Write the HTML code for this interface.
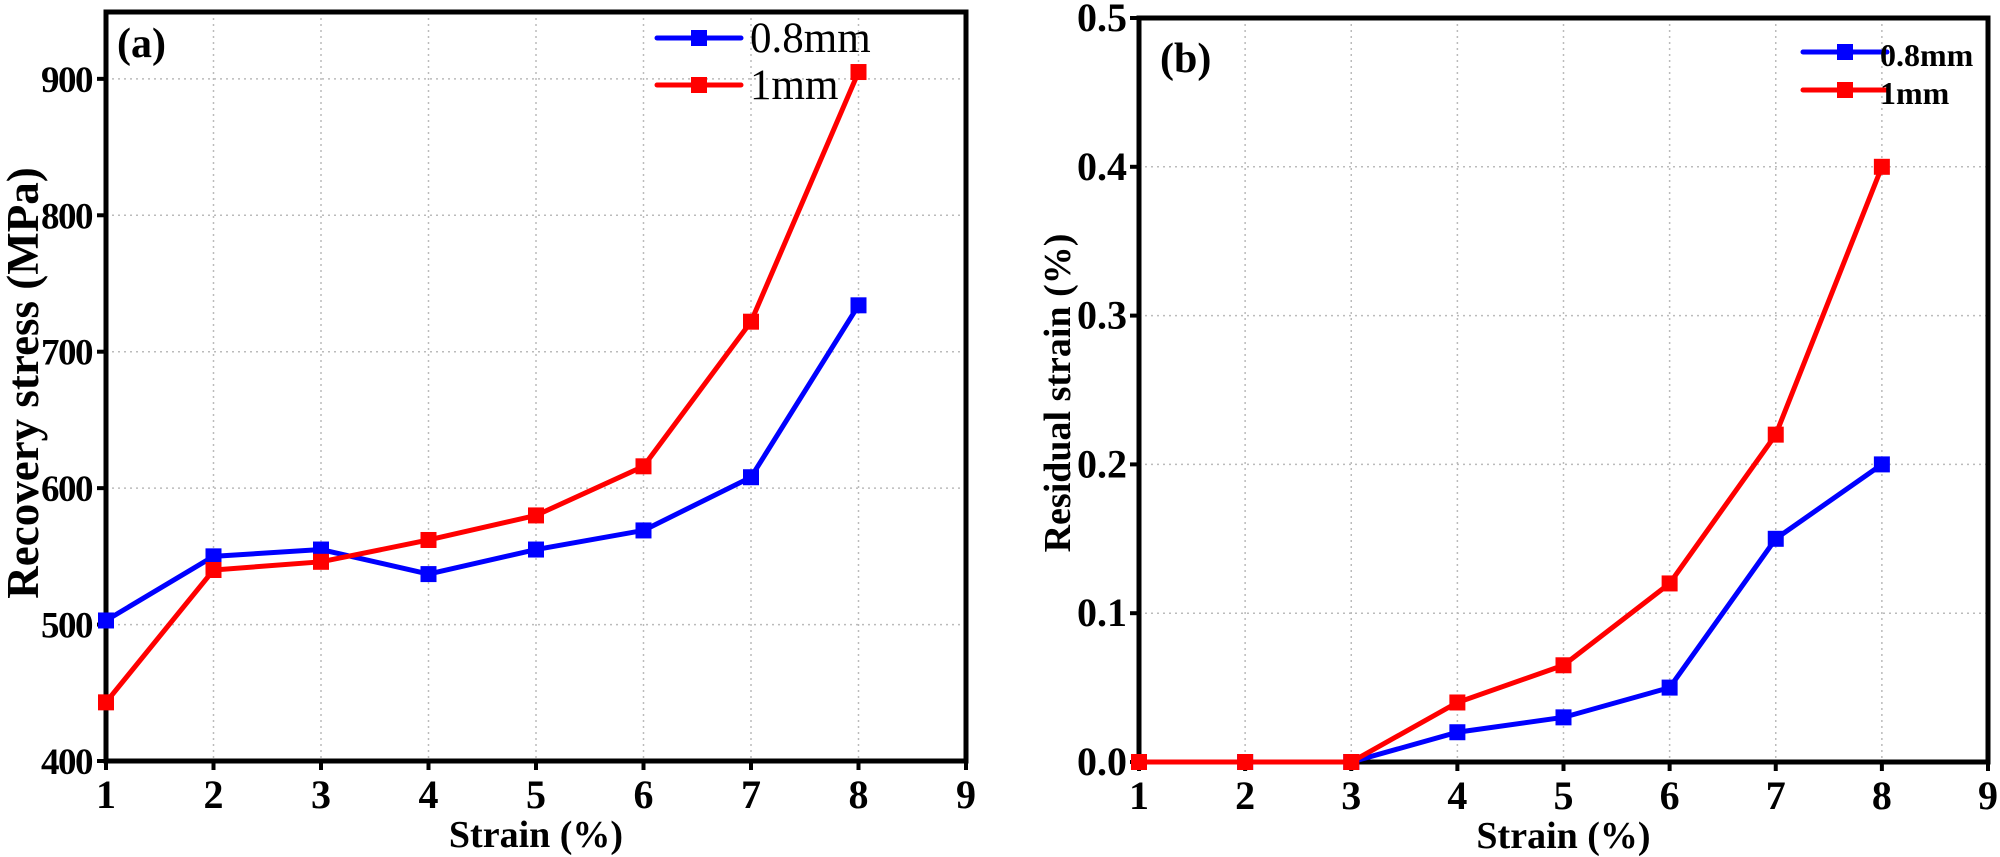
<!DOCTYPE html>
<html><head><meta charset="utf-8"><style>
html,body{margin:0;padding:0;background:#fff;}
svg{display:block;}
text{font-family:"Liberation Serif",serif;}
</style></head><body>
<svg id="s" width="2000" height="857" xmlns="http://www.w3.org/2000/svg"></svg>
<script>
const s=document.getElementById('s');let h='';
function panel(o){
  const {x0,x1,y0,y1,vmin,vmax,step,dec,data,ylabel,lab,labx,laby,leg,legBold,legSize}=o;
  const X=v=>x0+(v-1)*(x1-x0)/8, Y=v=>y1-(v-vmin)*(y1-y0)/(vmax-vmin);
  for(let i=2;i<=8;i++)h+=`<line x1="${X(i)}" y1="${y0}" x2="${X(i)}" y2="${y1}" stroke="#bbb" stroke-width="1.5" stroke-dasharray="2,4"/>`;
  for(let v=vmin+step;v<vmax-1e-9;v+=step)h+=`<line x1="${x0}" y1="${Y(v)}" x2="${x1}" y2="${Y(v)}" stroke="#bbb" stroke-width="1.5" stroke-dasharray="2,4"/>`;
  for(let i=1;i<=9;i++){h+=`<line x1="${X(i)}" y1="${y1}" x2="${X(i)}" y2="${y1+9}" stroke="#000" stroke-width="4"/>`;
    h+=`<text x="${X(i)}" y="${y1+47}" font-size="40" font-weight="bold" text-anchor="middle">${i}</text>`;}
  for(let v=vmin;v<=vmax+1e-9;v+=step){h+=`<line x1="${x0-9}" y1="${Y(v)}" x2="${x0}" y2="${Y(v)}" stroke="#000" stroke-width="4"/>`;
    h+=`<text x="${x0-o.tg}" y="${Y(v)+13}" font-size="${o.tf}" letter-spacing="${o.ls}" font-weight="bold" text-anchor="end">${v.toFixed(dec)}</text>`;}
  h+=`<rect x="${x0}" y="${y0}" width="${x1-x0}" height="${y1-y0}" fill="none" stroke="#000" stroke-width="5"/>`;
  data.forEach(([c,vals])=>{
    h+=`<polyline fill="none" stroke="${c}" stroke-width="5" points="${vals.map((v,i)=>X(i+1)+','+Y(v)).join(' ')}"/>`;
    vals.forEach((v,i)=>h+=`<rect x="${X(i+1)-8}" y="${Y(v)-8}" width="16" height="16" fill="${c}"/>`);
  });
  leg.forEach(([c,t,lx,ly,tx])=>{
    h+=`<line x1="${lx}" y1="${ly}" x2="${lx+84}" y2="${ly}" stroke="${c}" stroke-width="5" stroke-linecap="round"/>`;
    h+=`<rect x="${lx+34}" y="${ly-8}" width="16" height="16" fill="${c}"/>`;
    h+=`<text x="${tx}" y="${ly+14}" font-size="${legSize}" ${legBold?'font-weight="bold"':''}>${t}</text>`;
  });
  h+=`<text x="${labx}" y="${laby}" font-size="42" font-weight="bold">${lab}</text>`;
  h+=`<text x="${(x0+x1)/2}" y="${y1+86}" font-size="38" font-weight="bold" text-anchor="middle">Strain (%)</text>`;
  h+=`<text transform="translate(${o.ylx},${o.yly}) rotate(-90)" font-size="${o.ylf}" font-weight="bold" text-anchor="middle">${ylabel}</text>`;
}
panel({x0:106,x1:966,y0:12,y1:761,vmin:400,vmax:949,step:100,dec:0,tf:37,ls:-1.5,tg:14,
 data:[['#0000ff',[503,550,555,537,555,569,608,734]],['#ff0000',[443,540,546,562,580,616,722,905]]],
 ylabel:'Recovery stress (MPa)',ylx:38,yly:383,ylf:45,lab:'(a)',labx:117,laby:57,
 leg:[['#0000ff','0.8mm',657,38,750],['#ff0000','1mm',657,85,750]],legBold:false,legSize:43});
panel({x0:1139,x1:1988,y0:18,y1:762,vmin:0,vmax:0.5,step:0.1,dec:1,tf:40,ls:0,tg:12,
 data:[['#0000ff',[0,0,0,.02,.03,.05,.15,.2]],['#ff0000',[0,0,0,.04,.065,.12,.22,.4]]],
 ylabel:'Residual strain (%)',ylx:1070,yly:393,ylf:38,lab:'(b)',labx:1160,laby:72,
 leg:[['#0000ff','0.8mm',1803,52,1880],['#ff0000','1mm',1803,90,1880]],legBold:true,legSize:32});
s.innerHTML=h;
</script>
</body></html>
